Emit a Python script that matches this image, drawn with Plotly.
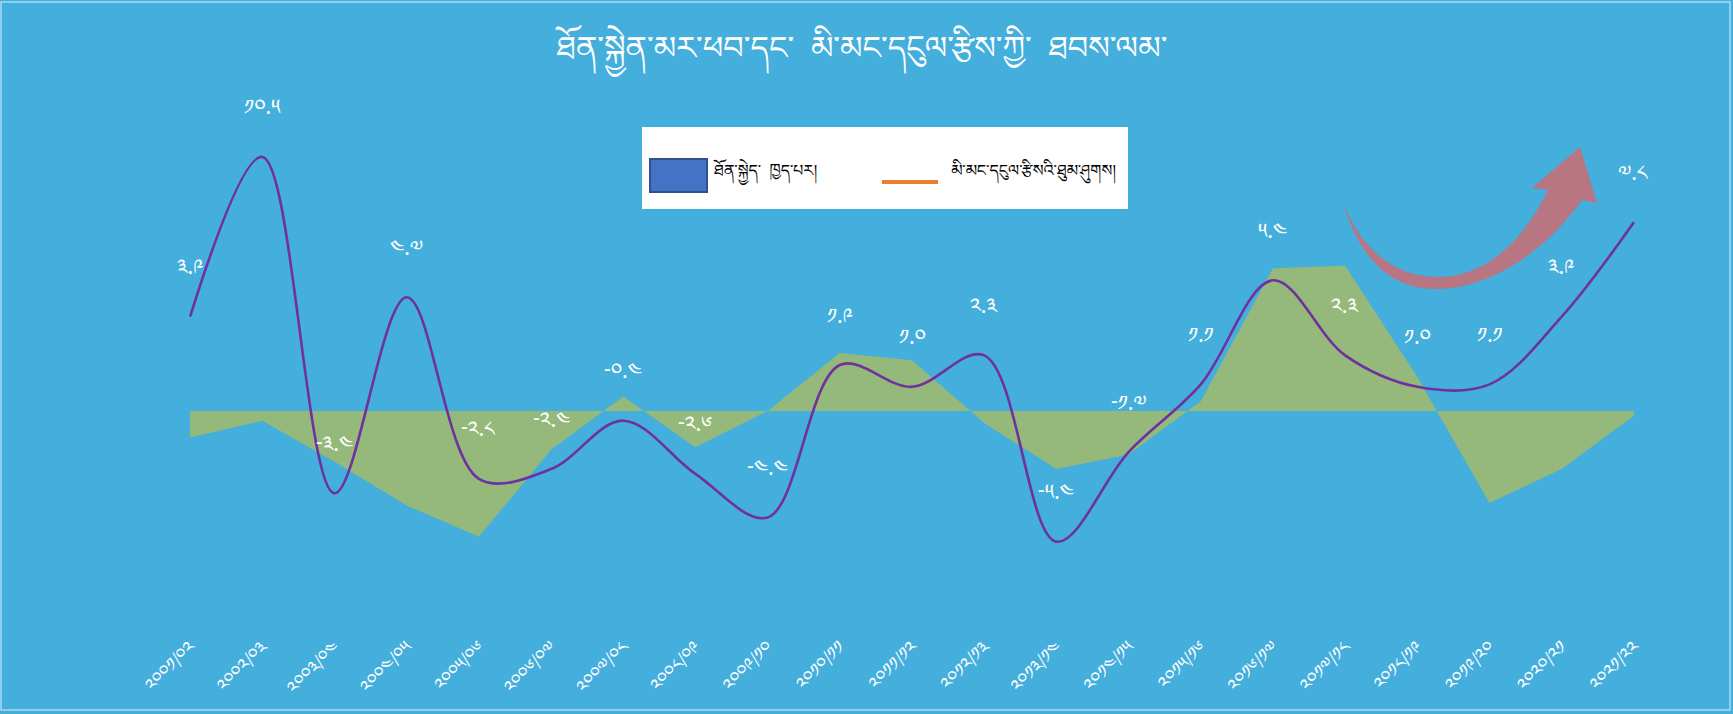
import plotly.graph_objects as go

# ---------------- data ----------------
categories = ["༢༠༠༡/༠༢", "༢༠༠༢/༠༣", "༢༠༠༣/༠༤", "༢༠༠༤/༠༥", "༢༠༠༥/༠༦", "༢༠༠༦/༠༧",
              "༢༠༠༧/༠༨", "༢༠༠༨/༠༩", "༢༠༠༩/༡༠", "༢༠༡༠/༡༡", "༢༠༡༡/༡༢", "༢༠༡༢/༡༣",
              "༢༠༡༣/༡༤", "༢༠༡༤/༡༥", "༢༠༡༥/༡༦", "༢༠༡༦/༡༧", "༢༠༡༧/༡༨", "༢༠༡༨/༡༩",
              "༢༠༡༩/༢༠", "༢༠༢༠/༢༡", "༢༠༢༡/༢༢"]
output_gap = [-1.1, -0.4, -2.1, -3.9, -5.2, -1.6, 0.6, -1.5, 0.0, 2.4, 2.1, -0.5,
              -2.4, -1.8, 0.4, 5.9, 6.0, 1.4, -3.8, -2.4, -0.2]
fiscal_impulse = [3.9, 10.5, -3.4, 4.7, -2.8, -2.4, -0.4, -2.6, -4.4, 1.9, 1.0, 2.3,
                  -5.4, -1.7, 1.1, 5.4, 2.3, 1.0, 1.1, 3.9, 7.8]

title_text = "ཐོན་སྐྱེན་མར་ཕབ་དང་  མི་མང་དངུལ་རྩིས་ཀྱི་  ཐབས་ལམ་"
legend_area = "ཐོན་སྐྱེད་  ཁྱད་པར།"
legend_line = "མི་མང་དངུལ་རྩིསའི་ཐུམ་ཤུགས།"

# ---------------- helpers ----------------
TIB = "Noto Serif Tibetan, Noto Sans Tibetan, Jomolhari, Microsoft Himalaya, DejaVu Sans, sans-serif"
W, H = 1733, 714
ML, MR, MT, MB = 154, 63, 120, 86
PW, PH = W - ML - MR, H - MT - MB
ZERO_PX, UNIT_PX = 411, 24.2


def tib_num(v):
    digits = "༠༡༢༣༤༥༦༧༨༩"
    s = f"{v:.1f}"
    return "".join(digits[int(c)] if c.isdigit() else c for c in s)


def px(x):
    return (x - ML) / PW


def py(y):
    return (H - MB - y) / PH


fig = go.Figure()

fig.add_trace(go.Scatter(
    x=categories, y=output_gap, mode="lines", fill="tozeroy",
    fillcolor="#94B97A", line=dict(width=0, color="#94B97A"),
    showlegend=False, hoverinfo="skip"))

fig.add_trace(go.Scatter(
    x=categories, y=fiscal_impulse, mode="lines",
    line=dict(color="#7030A0", width=2.6, shape="spline", smoothing=1.0),
    showlegend=False, hoverinfo="skip"))

annotations = []
for c, v in zip(categories, fiscal_impulse):
    annotations.append(dict(x=c, y=v, xref="x", yref="y", text=tib_num(v),
                            showarrow=False, yshift=44,
                            font=dict(family=TIB, size=21, color="white")))

# legend (manual)
annotations.append(dict(x=px(711), y=py(175), xref="paper", yref="paper",
                        text=legend_area, showarrow=False, xanchor="left", yanchor="middle",
                        font=dict(family=TIB, size=16, color="black")))
annotations.append(dict(x=px(949), y=py(175), xref="paper", yref="paper",
                        text=legend_line, showarrow=False, xanchor="left", yanchor="middle",
                        font=dict(family=TIB, size=16, color="black")))

shapes = [
    # outer light border
    dict(type="rect", xref="paper", yref="paper", x0=px(1), x1=px(1730), y0=py(710), y1=py(2),
         line=dict(color="#A9DAF0", width=1.5), fillcolor="rgba(0,0,0,0)", layer="below"),
    # legend box
    dict(type="rect", xref="paper", yref="paper", x0=px(642), x1=px(1128), y0=py(209), y1=py(127),
         line=dict(width=0), fillcolor="white", layer="above"),
    dict(type="rect", xref="paper", yref="paper", x0=px(650), x1=px(707), y0=py(192), y1=py(159),
         line=dict(color="#2F528F", width=2), fillcolor="#4472C4", layer="above"),
    dict(type="line", xref="paper", yref="paper", x0=px(882), x1=px(938), y0=py(182), y1=py(182),
         line=dict(color="#ED7D31", width=4), layer="above"),
]

# curved arrow
pts = [("M", [(1342, 199)]),
       ("C", [(1360, 262), (1392, 290), (1440, 289)]),
       ("C", [(1495, 287), (1548, 248), (1582, 200)]),
       ("L", [(1597, 203)]),
       ("L", [(1580, 147)]),
       ("L", [(1532, 188)]),
       ("L", [(1548, 190)]),
       ("C", [(1525, 238), (1488, 276), (1440, 277)]),
       ("C", [(1396, 278), (1360, 250), (1342, 199)]),
       ]
path = ""
for cmd, ps in pts:
    path += cmd + " " + " ".join(f"{px(a):.5f},{py(b):.5f}" for a, b in ps) + " "
path += "Z"
shapes.append(dict(type="path", xref="paper", yref="paper", path=path,
                   fillcolor="#B87582", line=dict(width=0), layer="above"))

ymax = (ZERO_PX - MT) / UNIT_PX
ymin = ymax - PH / UNIT_PX

fig.update_layout(
    width=W, height=H,
    margin=dict(l=ML, r=MR, t=MT, b=MB, autoexpand=False),
    paper_bgcolor="#44AEDC", plot_bgcolor="#44AEDC",
    title=dict(text=title_text, x=862 / W, xref="container", xanchor="center",
               y=1 - 48 / H, yref="container", yanchor="middle",
               font=dict(family=TIB, size=32, color="white")),
    xaxis=dict(type="category", range=[-0.5, 20.5], showgrid=False, zeroline=False,
               showline=False, ticks="", tickangle=-45, ticklabelstandoff=4,
               automargin=False,
               tickfont=dict(family=TIB, size=18, color="white")),
    yaxis=dict(range=[ymin, ymax], showgrid=False, zeroline=False, showline=False,
               showticklabels=False, ticks="", automargin=False),
    showlegend=False,
    annotations=annotations,
    shapes=shapes,
)

fig.write_html("out.html", config={"displayModeBar": False},
               post_script="document.body.style.margin='0';document.body.style.padding='0';")
